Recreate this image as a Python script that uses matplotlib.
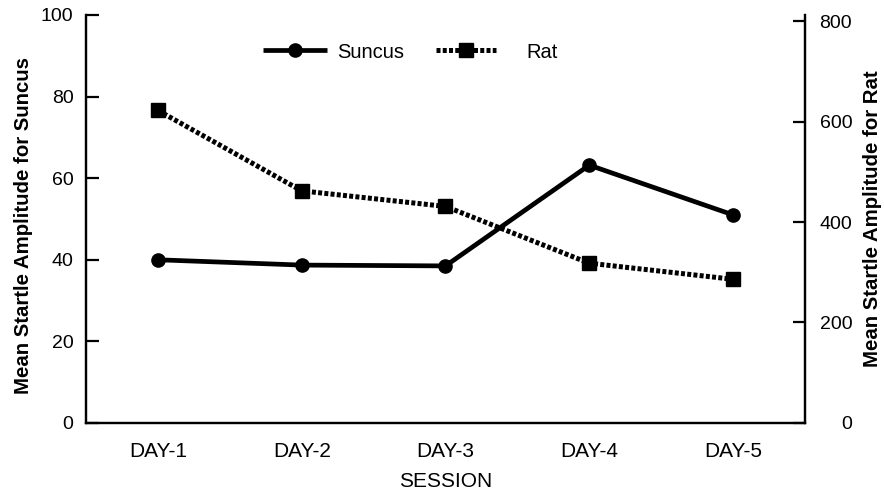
import matplotlib
matplotlib.use("Agg")
import matplotlib.pyplot as plt
from matplotlib.lines import Line2D

plt.rcParams['font.family'] = ['Liberation Sans', 'DejaVu Sans']

sessions = ["DAY-1", "DAY-2", "DAY-3", "DAY-4", "DAY-5"]
suncus = [40.0, 38.7, 38.5, 63.2, 51.0]
rat = [622, 462, 431, 318, 286]
left_ticks = [0, 20, 40, 60, 80, 100]
right_ticks = [0, 200, 400, 600, 800]

fig = plt.figure(figsize=(8.84, 4.95), dpi=100)
ax = fig.add_axes([0.0973, 0.1455, 0.8133, 0.8242])
ax2 = ax.twinx()

x = list(range(1, len(sessions) + 1))
sun_style = dict(color='black', lw=3.4, marker='o', ms=9.5, solid_capstyle='butt')
rat_style = dict(color='black', lw=3.6, ls=(0, (0.8, 0.45)), marker='s', ms=10.5, dash_capstyle='butt')
ax.plot(x, suncus, zorder=3, **sun_style)
ax2.plot(x, rat, zorder=3, **rat_style)

ax.set_xlim(0.5, 5.5)
ax.set_ylim(0, 100)
ax2.set_ylim(0, 812)
ax.set_xticks(x)
ax.set_xticklabels(sessions)
ax.set_yticks(left_ticks)
ax2.set_yticks(right_ticks)

for a in (ax, ax2):
    for s in a.spines.values():
        s.set_linewidth(1.6)
    a.spines['top'].set_visible(False)

ax.tick_params(axis='x', length=0, pad=13.5, labelsize=15)
ax.tick_params(axis='y', direction='in', length=9, width=1.6, pad=9, labelsize=14)
ax2.tick_params(axis='y', direction='in', length=9, width=1.6, pad=34, labelsize=14)
for t in ax2.get_yticklabels():
    t.set_horizontalalignment('right')

ax.set_xlabel("SESSION", fontsize=15, labelpad=8)
ax.set_ylabel("Mean Startle Amplitude for Suncus", fontsize=14.7, fontweight='bold', labelpad=6)
ax2.set_ylabel("Mean Startle Amplitude for Rat", fontsize=14.7, fontweight='bold', labelpad=8)
ax.yaxis.label.set_y(0.485)

h1 = Line2D([], [], **sun_style)
h2 = Line2D([], [], **rat_style)
W, H = 884, 495
leg1 = fig.legend(handles=[h1], labels=["Suncus"], loc='center left',
                  bbox_to_anchor=(263 / W, 1 - 52 / H), frameon=False, fontsize=14.5,
                  handlelength=3.2, handletextpad=0.5, borderpad=0, borderaxespad=0)
leg2 = fig.legend(handles=[h2], labels=["Rat"], loc='center left',
                  bbox_to_anchor=(436 / W, 1 - 52 / H), frameon=False, fontsize=14.5,
                  handlelength=3.0, handletextpad=1.5, borderpad=0, borderaxespad=0)

fig.savefig("out.png", dpi=100)
